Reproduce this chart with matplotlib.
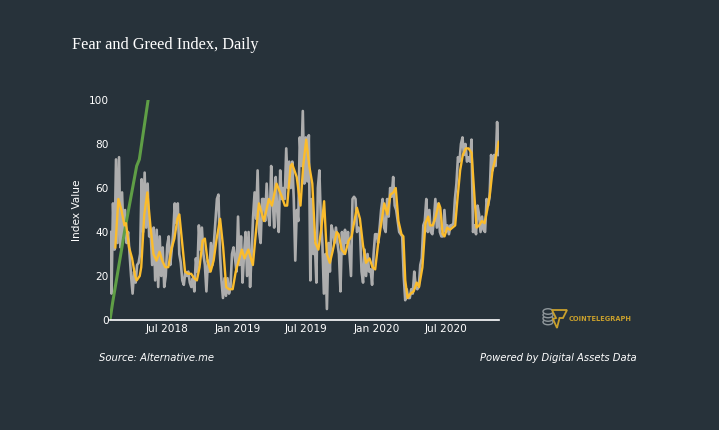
import numpy as np
import pandas as pd
import matplotlib
matplotlib.use("Agg")
import matplotlib.pyplot as plt
from matplotlib.patches import Ellipse, Polygon

BG = "#27323a"
START = "2018-02-01"
LAST_DAY = 1020

index_values = [
    40, 12, 53, 32, 73, 35, 74, 33, 58, 38, 50, 35, 40, 30, 20, 12, 22, 17, 25, 26,
    30, 64, 40, 67, 42, 62, 38, 40, 25, 42, 18, 41, 15, 38, 20, 33, 15, 20, 34, 38,
    25, 32, 40, 53, 44, 53, 30, 26, 18, 16, 22, 20, 22, 17, 15, 19, 13, 28, 22, 43,
    32, 42, 30, 25, 13, 27, 22, 35, 25, 35, 45, 55, 57, 30, 18, 10, 19, 11, 19, 12,
    15, 30, 33, 28, 22, 47, 25, 38, 17, 30, 40, 20, 40, 15, 30, 47, 58, 46, 68, 40,
    35, 55, 55, 45, 62, 48, 43, 70, 55, 42, 65, 50, 40, 68, 55, 60, 55, 78, 60, 72,
    60, 72, 55, 27, 50, 45, 83, 70, 95, 62, 83, 63, 84, 18, 55, 30, 35, 17, 60, 68,
    45, 35, 12, 30, 5, 35, 22, 43, 40, 35, 42, 35, 30, 13, 40, 30, 41, 35, 40, 30,
    20, 55, 56, 55, 40, 42, 40, 22, 17, 32, 20, 30, 22, 23, 16, 30, 39, 39, 35, 42,
    50, 55, 42, 40, 55, 47, 60, 56, 65, 52, 50, 45, 40, 39, 38, 20, 9, 14, 10, 10,
    14, 12, 22, 15, 14, 15, 25, 28, 43, 45, 55, 40, 50, 40, 39, 45, 55, 42, 53, 40,
    38, 38, 50, 40, 43, 39, 43, 43, 44, 55, 62, 74, 72, 80, 83, 75, 80, 72, 74, 72,
    82, 40, 43, 39, 52, 48, 40, 47, 41, 40, 55, 52, 56, 75, 68, 75, 70, 90, 75,
]

ma_days = [
    14, 22, 30, 38, 42, 50, 58, 66, 70, 78, 82, 90, 98, 106, 114, 122, 130, 137, 145, 153,
    161, 169, 177, 182, 189, 197, 205, 213, 221, 228, 235, 243, 249, 256, 264, 272, 280, 289, 297, 305,
    312, 315, 322, 330, 338, 346, 353, 363, 375, 383, 391, 399, 404, 417, 425, 437, 451, 459, 465, 474,
    478, 490, 500, 507, 515, 523, 531, 539, 547, 555, 562, 569, 577, 584, 595, 600, 608, 617, 626, 634,
    648, 656, 664, 672, 681, 689, 696, 704, 712, 720, 728, 736, 744, 750, 757, 765, 770, 775, 781, 789,
    797, 805, 811, 820, 828, 835, 840, 847, 855, 863, 867, 873, 878, 885, 892, 906, 912, 919, 926, 934,
    941, 949, 955, 962, 969, 976, 983, 990, 997, 1004, 1011, 1020,
]
ma_values = [
    33, 55, 50, 43, 44, 33, 28, 20, 18, 20, 24, 48, 58, 43, 30, 27, 31, 27, 24, 24,
    32, 37, 46, 48, 36, 22, 21, 21, 19, 18, 24, 36, 37, 27, 22, 27, 37, 46, 33, 15,
    14, 14, 14, 22, 27, 32, 28, 32, 25, 40, 53, 48, 45, 55, 52, 62, 56, 52, 52, 70,
    71, 65, 52, 70, 82, 70, 62, 35, 32, 42, 54, 30, 26, 31, 40, 39, 32, 30, 36, 38,
    51, 46, 34, 26, 28, 24, 23, 35, 44, 53, 48, 57, 58, 60, 45, 39, 38, 18, 10, 12,
    13, 17, 15, 24, 44, 47, 43, 43, 47, 53, 51, 39, 38, 42, 41, 43, 55, 68, 75, 78,
    78, 76, 60, 42, 43, 45, 44, 50, 57, 68, 73, 81,
]

trend_days = [0, 7, 39, 70, 77, 100]
trend_values = [0, 8, 41, 70, 73, 100]

y_ticks = [0, 20, 40, 60, 80, 100]
x_tick_dates = ["2018-07-01", "2019-01-01", "2019-07-01", "2020-01-01", "2020-07-01"]
x_tick_labels = ["Jul 2018", "Jan 2019", "Jul 2019", "Jan 2020", "Jul 2020"]

W, H = 719, 430
fig = plt.figure(figsize=(W / 100, H / 100), dpi=100, facecolor=BG)
ax = fig.add_axes([110 / W, (H - 320) / H, 389 / W, 220 / H], facecolor=BG)

start = pd.Timestamp(START)
end = start + pd.Timedelta(days=LAST_DAY)
index_dates = pd.date_range(start, end, periods=len(index_values))
ma_dates = start + pd.to_timedelta(ma_days, unit="D")
trend_dates = start + pd.to_timedelta(trend_days, unit="D")

ax.plot(index_dates, index_values, color="#adadad", lw=1.9, solid_joinstyle="round")
ax.plot(trend_dates, trend_values, color="#5f9e46", lw=2.2)
ax.plot(ma_dates, ma_values, color="#fbbc2c", lw=1.7)

ax.set_ylim(0, 100)
ax.set_xlim(start, start + pd.Timedelta(days=1021))
ax.set_yticks(y_ticks)
ax.set_xticks(pd.to_datetime(x_tick_dates))
ax.set_xticklabels(x_tick_labels)
ax.tick_params(axis="both", length=0, colors="white", labelsize=7.6)
ax.tick_params(axis="x", pad=3)
ax.tick_params(axis="y", pad=1)
for name in ["top", "right", "left"]:
    ax.spines[name].set_visible(False)
ax.spines["bottom"].set_color("white")
ax.spines["bottom"].set_linewidth(1.2)

fig.text(76.5 / W, (H - 210) / H, "Index Value", color="white", fontsize=7.6, rotation=90,
         ha="center", va="center")
fig.text(72 / W, (H - 45) / H, "Fear and Greed Index, Daily", color="white", fontsize=11.7,
         family="Liberation Serif", ha="left", va="center")
fig.text(99 / W, (H - 358) / H, "Source: Alternative.me", color="white", fontsize=7.2,
         style="italic", ha="left", va="center")
fig.text(637 / W, (H - 358) / H, "Powered by Digital Assets Data", color="white", fontsize=7.2,
         style="italic", ha="right", va="center")

# logo, on an overlay in pixel coordinates
logo = fig.add_axes([0, 0, 1, 1], facecolor="none")
logo.set_xlim(0, W)
logo.set_ylim(H, 0)
logo.axis("off")
for cy in [322, 318.5, 315, 311.5]:
    logo.add_patch(Ellipse((548, cy), 10, 5.5, fc=BG, ec="#8f979b", lw=1))
logo.add_patch(Polygon([(552, 310), (567, 310), (563, 318), (559.5, 318), (557, 328),
                        (553, 319), (556, 318)], closed=True, fc=BG, ec="#c9a02c", lw=1.3))
logo.text(569, 319, "COINTELEGRAPH", color="#c9a02c", fontsize=4.8, fontweight="bold",
          ha="left", va="center", family="DejaVu Sans")

fig.savefig("out.png", dpi=100, facecolor=BG)
